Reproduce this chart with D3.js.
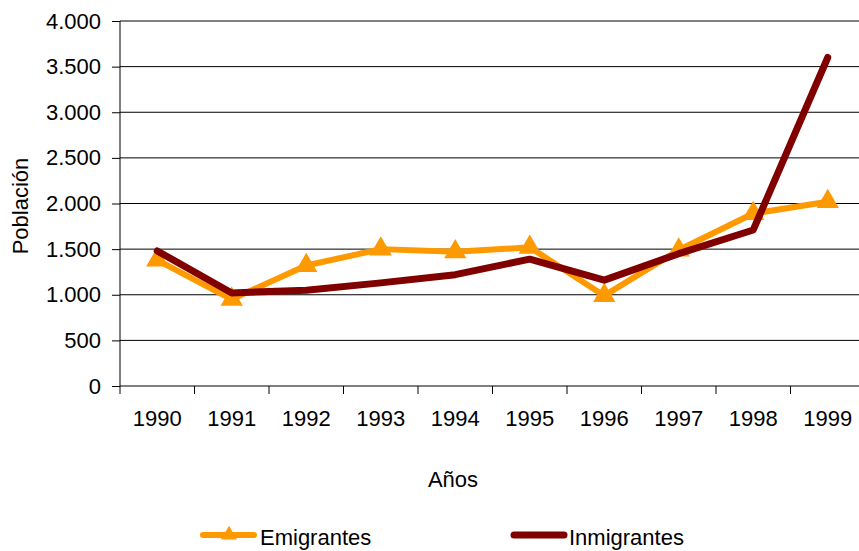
<!DOCTYPE html>
<html>
<head>
<meta charset="utf-8">
<script src="https://cdn.jsdelivr.net/npm/d3@7"></script>
<style>
  body { margin: 0; background: #fff; }
  svg { display: block; font-family: "Liberation Sans", Arial, sans-serif; }
</style>
</head>
<body>
<div id="grafico"></div>
<script>
// Datos del grafico
var anios = ["1990", "1991", "1992", "1993", "1994", "1995", "1996", "1997", "1998", "1999"]
var emigrantes = [1380, 950, 1320, 1500, 1470, 1520, 990, 1490, 1890, 2020]
var inmigrantes = [1480, 1020, 1050, 1130, 1220, 1390, 1160, 1450, 1710, 3600]
var ticksY = [0, 500, 1000, 1500, 2000, 2500, 3000, 3500, 4000]

var width = 859
var height = 551
var margin = { top: 21, right: -6, bottom: 165, left: 120 }

var fmt = d3.format(",")
var etiqueta = v => fmt(v).replace(/,/g, ".")

var svg = d3.select("#grafico")
    .append("svg")
    .attr("width", width)
    .attr("height", height)

var x = d3.scaleBand()
    .domain(anios)
    .range([margin.left, width - margin.right])

var y = d3.scaleLinear()
    .domain([0, 4000])
    .range([height - margin.bottom, margin.top])

// lineas de rejilla
svg.append("g")
    .selectAll("line")
    .data(ticksY.filter(d => d > 0))
    .join("line")
    .attr("x1", margin.left)
    .attr("x2", width - margin.right)
    .attr("y1", d => y(d))
    .attr("y2", d => y(d))
    .attr("stroke", "#000")
    .attr("stroke-width", 1)

// eje Y
var ejeY = svg.append("g")
    .attr("transform", "translate(" + margin.left + ",0)")
    .call(d3.axisLeft(y).tickValues(ticksY).tickFormat(etiqueta).tickSize(8).tickPadding(11))
ejeY.selectAll("text").attr("font-size", "22px").attr("fill", "#000").attr("font-family", null)
ejeY.selectAll("line,path").attr("stroke", "#000")
ejeY.select(".domain").attr("d", "M0," + y(0) + "V" + y(4000))

// eje X
var ejeX = svg.append("g")
    .attr("transform", "translate(0," + y(0) + ")")
    .call(d3.axisBottom(x).tickSize(0).tickPadding(24))
ejeX.selectAll("text").attr("font-size", "22px").attr("fill", "#000").attr("font-family", null)
ejeX.select(".domain").attr("stroke", "#000").attr("d", "M" + margin.left + ",0H" + (width - margin.right))
ejeX.selectAll(".tick line").remove()
// marcas entre categorias
svg.append("g")
    .selectAll("line")
    .data(anios)
    .join("line")
    .attr("x1", d => x(d))
    .attr("x2", d => x(d))
    .attr("y1", y(0))
    .attr("y2", y(0) + 8)
    .attr("stroke", "#000")

var cx = d => x(d) + x.bandwidth() / 2

var linea = d3.line()
    .x((d, i) => cx(anios[i]))
    .y(d => y(d))

// serie emigrantes
svg.append("path")
    .datum(emigrantes)
    .attr("fill", "none")
    .attr("stroke", "#FF9900")
    .attr("stroke-width", 6)
    .attr("stroke-linejoin", "round")
    .attr("d", linea)

svg.append("g")
    .selectAll("path")
    .data(emigrantes)
    .join("path")
    .attr("d", d3.symbol(d3.symbolTriangle, 215))
    .attr("transform", (d, i) => "translate(" + cx(anios[i]) + "," + y(d) + ")")
    .attr("fill", "#FF9900")

// serie inmigrantes
svg.append("path")
    .datum(inmigrantes)
    .attr("fill", "none")
    .attr("stroke", "#800000")
    .attr("stroke-width", 7)
    .attr("stroke-linejoin", "round")
    .attr("stroke-linecap", "round")
    .attr("d", linea)

// titulos
svg.append("text")
    .attr("x", 453)
    .attr("y", 487)
    .attr("text-anchor", "middle")
    .attr("font-size", "22px")
    .text("Años")

svg.append("text")
    .attr("transform", "translate(28,206) rotate(-90)")
    .attr("text-anchor", "middle")
    .attr("font-size", "22px")
    .text("Población")

// leyenda
var leyenda = svg.append("g")
leyenda.append("line")
    .attr("x1", 203).attr("x2", 254).attr("y1", 535).attr("y2", 535)
    .attr("stroke", "#FF9900").attr("stroke-width", 6).attr("stroke-linecap", "round")
leyenda.append("path")
    .attr("d", d3.symbol(d3.symbolTriangle, 110))
    .attr("transform", "translate(229,535)")
    .attr("fill", "#FF9900")
leyenda.append("text")
    .attr("x", 260).attr("y", 545).attr("font-size", "22px").text("Emigrantes")

leyenda.append("line")
    .attr("x1", 514).attr("x2", 564).attr("y1", 535).attr("y2", 535)
    .attr("stroke", "#800000").attr("stroke-width", 7).attr("stroke-linecap", "round")
leyenda.append("text")
    .attr("x", 569).attr("y", 545).attr("font-size", "22px").text("Inmigrantes")
</script>
</body>
</html>
